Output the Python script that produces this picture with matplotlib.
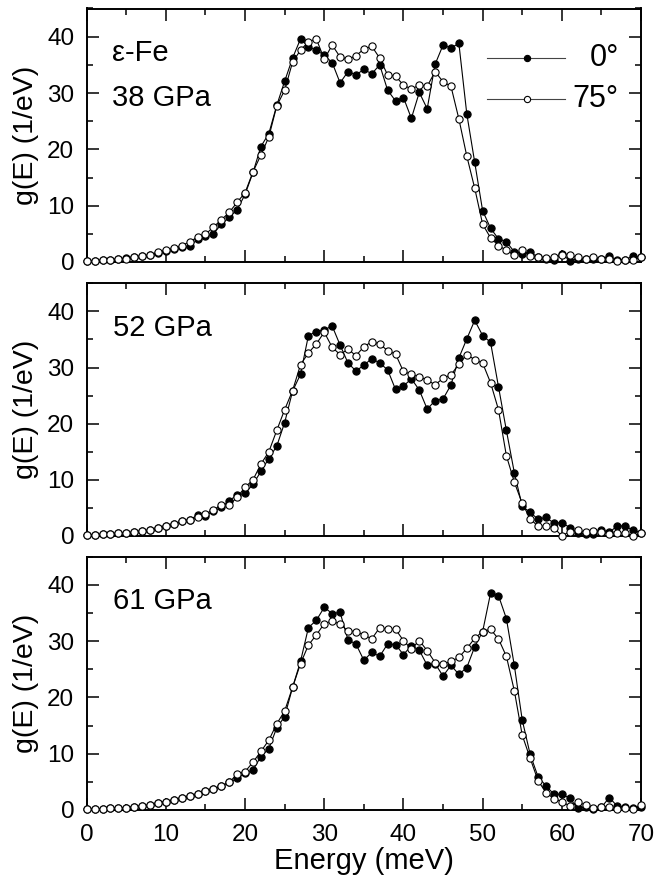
import matplotlib
matplotlib.use("Agg")
import matplotlib.pyplot as plt
from matplotlib.ticker import MultipleLocator

plt.rcParams['font.family'] = ['Liberation Sans', 'DejaVu Sans']

energy = list(range(71))

p38_0 = [0.2, 0.2, 0.3, 0.4, 0.5, 0.7, 0.8, 1.0, 1.2, 1.6, 2.0, 2.3, 2.6, 2.8, 4.0, 4.6, 5.0, 6.7, 7.9, 9.3,
         12.0, 15.9, 20.5, 22.8, 27.8, 32.1, 36.2, 39.6, 38.2, 37.6, 36.7, 35.4, 31.8, 33.8, 33.2, 34.2, 33.4, 35.0, 30.5, 28.6,
         29.2, 25.5, 30.1, 27.2, 35.1, 38.5, 38.0, 38.8, 26.3, 17.7, 9.1, 6.0, 4.1, 3.6, 1.8, 1.5, 1.7, 0.9, 0.5, 0.35,
         1.5, 0.2, 0.6, 0.5, 0.6, 0.5, 1.1, 0.3, 0.35, 1.1, 0.8]
p38_75 = [0.2, 0.2, 0.3, 0.4, 0.5, 0.6, 0.8, 1.0, 1.2, 1.7, 2.1, 2.4, 2.9, 3.6, 4.4, 4.9, 6.2, 7.5, 8.8, 10.6,
          12.3, 16.0, 19.0, 22.2, 27.7, 30.5, 35.5, 37.6, 39.1, 39.6, 36.0, 38.5, 36.4, 36.0, 36.6, 37.8, 38.3, 36.2, 33.2, 33.0,
          31.4, 30.7, 31.4, 31.2, 33.8, 32.0, 31.2, 25.4, 18.8, 13.1, 6.7, 4.3, 2.9, 2.1, 1.2, 2.2, 1.1, 0.9, 0.65, 0.9,
          1.2, 1.2, 0.8, 0.5, 0.8, 0.6, 0.5, 0.25, 0.4, 0.35, 0.9]

p52_0 = [0.2, 0.2, 0.3, 0.4, 0.5, 0.5, 0.7, 0.9, 1.0, 1.4, 1.7, 2.1, 2.6, 2.9, 3.7, 3.6, 4.4, 5.1, 6.3, 7.3,
         7.6, 9.2, 11.5, 13.8, 16.0, 20.2, 25.8, 28.8, 35.7, 36.4, 36.7, 37.4, 34.0, 30.8, 29.4, 30.4, 31.6, 30.8, 29.6, 26.1,
         26.7, 28.0, 26.0, 22.6, 24.1, 24.4, 26.9, 31.7, 35.1, 38.4, 35.7, 34.5, 26.6, 18.8, 11.3, 5.3, 4.2, 3.0, 3.3, 2.3,
         2.4, 1.5, 0.5, 0.4, 0.4, 1.1, 0.65, 1.8, 1.8, 1.0, 0.6]
p52_75 = [0.2, 0.2, 0.3, 0.4, 0.5, 0.5, 0.7, 0.9, 1.0, 1.4, 1.7, 2.1, 2.6, 2.9, 3.3, 4.0, 4.6, 5.6, 5.5, 6.9,
          8.7, 10.0, 12.8, 15.0, 18.8, 22.5, 25.9, 30.5, 32.6, 34.2, 36.3, 33.6, 32.3, 33.3, 32.1, 33.7, 34.6, 34.2, 33.0, 32.4,
          29.3, 28.8, 28.3, 27.8, 26.9, 28.1, 28.7, 30.6, 32.3, 31.4, 30.8, 27.3, 22.5, 14.3, 9.6, 5.8, 3.1, 1.7, 1.8, 1.5,
          0.0, 0.8, 1.1, 0.65, 0.9, 0.8, 0.3, 0.5, 0.5, 0.05, 0.5]

p61_0 = [0.1, 0.15, 0.2, 0.3, 0.4, 0.4, 0.6, 0.7, 0.9, 1.2, 1.5, 1.8, 2.1, 2.4, 2.8, 3.3, 3.7, 4.3, 4.9, 5.6,
         6.5, 7.1, 9.5, 10.9, 14.6, 16.6, 21.8, 26.4, 32.4, 33.7, 36.0, 34.9, 35.1, 30.2, 29.5, 26.6, 28.0, 27.3, 29.5, 29.4,
         27.6, 29.2, 28.4, 25.7, 26.0, 23.8, 25.7, 24.1, 25.3, 29.0, 31.7, 38.5, 38.1, 34.0, 25.7, 16.0, 9.9, 5.9, 4.3, 2.8,
         2.8, 2.1, 0.3, 0.5, 0.2, 0.5, 2.2, 0.7, 0.5, 0.3, 0.6]
p61_75 = [0.1, 0.15, 0.2, 0.3, 0.4, 0.4, 0.6, 0.7, 0.9, 1.2, 1.5, 1.8, 2.1, 2.4, 2.8, 3.3, 3.7, 4.3, 4.9, 6.4,
          6.8, 8.5, 10.4, 12.4, 15.3, 17.6, 21.8, 26.0, 29.3, 31.1, 33.1, 33.6, 33.0, 31.8, 31.7, 31.1, 30.4, 32.4, 32.1, 32.1,
          30.1, 28.6, 30.1, 28.3, 26.2, 25.9, 26.4, 27.1, 28.7, 30.5, 31.7, 32.1, 30.4, 27.3, 21.2, 13.3, 9.2, 5.2, 3.1, 2.0,
          1.5, 0.7, 1.4, 0.9, 0.3, 0.6, 0.6, 0.1, 0.4, 0.1, 0.9]

panel_labels = ["38 GPa", "52 GPa", "61 GPa"]
series_0 = [p38_0, p52_0, p61_0]
series_75 = [p38_75, p52_75, p61_75]
legend_labels = ["0°", "75°"]
x_ticks = [0, 10, 20, 30, 40, 50, 60, 70]
y_ticks = [0, 10, 20, 30, 40]

fig = plt.figure(figsize=(6.54, 8.86), dpi=100)
W, H = 654.0, 886.0
left_px, right_px = 86.7, 641.0
panels_px = [(8.5, 262.0), (283.3, 536.0), (556.7, 810.0)]

ms = 5.2
for i, (top, bot) in enumerate(panels_px):
    ax = fig.add_axes([left_px / W, 1 - bot / H, (right_px - left_px) / W, (bot - top) / H])
    ax.plot(energy, series_0[i], '-', color='black', lw=0.8, marker='o', ms=ms,
            mfc='black', mec='black', mew=0.8, clip_on=False, zorder=3)
    ax.plot(energy, series_75[i], '-', color='black', lw=0.8, marker='o', ms=ms,
            mfc='white', mec='black', mew=0.8, clip_on=False, zorder=4)
    ax.set_xlim(0, 70)
    ax.set_ylim(0, 45)
    ax.set_xticks(x_ticks)
    ax.set_yticks(y_ticks)
    ax.xaxis.set_minor_locator(MultipleLocator(5))
    ax.yaxis.set_minor_locator(MultipleLocator(5))
    ax.tick_params(which='both', direction='in', top=True, right=True, width=1.1)
    ax.tick_params(which='major', length=8.5)
    ax.tick_params(which='minor', length=4.3)
    ax.tick_params(axis='y', labelsize=17.5, pad=9)
    ax.tick_params(axis='x', labelsize=17.5, pad=10)
    for s in ax.spines.values():
        s.set_linewidth(1.4)
    if i < 2:
        ax.tick_params(axis='x', labelbottom=False)
    else:
        ax.set_xlabel("Energy (meV)", fontsize=21, labelpad=1)
    ax.set_ylabel("g(E) (1/eV)", fontsize=20.5)
    ax.yaxis.set_label_coords(-0.086, 0.5)

    if i == 0:
        ax.text(0.045, 0.793, "ε-Fe", transform=ax.transAxes, fontsize=21, ha='left', va='baseline')
        ax.text(0.045, 0.615, panel_labels[i], transform=ax.transAxes, fontsize=21, ha='left', va='baseline')
        rows = [(0.806, 'black'), (0.643, 'white')]
        for (yy, fc), lab in zip(rows, legend_labels):
            ax.plot([0.722, 0.863], [yy, yy], '-', color='#444444', lw=0.8, transform=ax.transAxes)
            ax.plot([0.794], [yy], 'o', ms=4.5, mfc=fc, mec='black', mew=0.8, transform=ax.transAxes)
            ax.text(0.960, yy, lab, transform=ax.transAxes, fontsize=22, ha='right', va='center')
    else:
        ax.text(0.047, 0.792, panel_labels[i], transform=ax.transAxes, fontsize=21, ha='left', va='baseline')

fig.savefig("out.png", dpi=100)
